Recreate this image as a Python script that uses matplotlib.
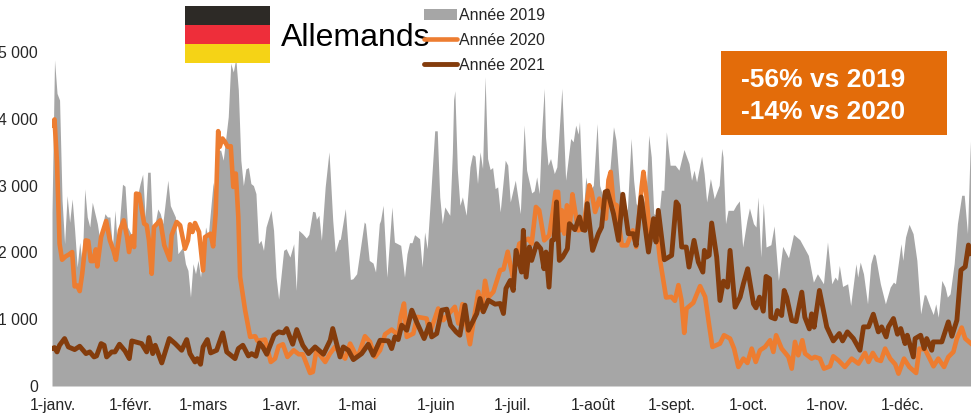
import matplotlib
matplotlib.use("Agg")
import matplotlib.pyplot as plt
from matplotlib.lines import Line2D
from matplotlib.patches import Patch, Rectangle

plt.rcParams["font.family"] = ["Liberation Sans", "DejaVu Sans"]

tick_days = [0.4, 31.4, 60, 91, 121.5, 152.5, 183, 214.8, 246, 276.5, 308, 338]
tick_labels = ["1-janv.", "1-févr.", "1-mars", "1-avr.", "1-mai", "1-juin", "1-juil.",
               "1-août", "1-sept.", "1-oct.", "1-nov.", "1-déc."]
y_ticks = [0, 1000, 2000, 3000, 4000, 5000]
y_labels = ["0", "1 000", "2 000", "3 000", "4 000", "5 000"]

days_2019 = [0, 1, 2, 3, 4, 5, 6, 7, 8, 9, 10, 11, 12, 13, 14, 15, 16, 18, 19, 21, 22, 23, 24, 25, 26,
             28, 29, 30, 32, 33, 35, 36, 37, 38, 39, 40, 42, 43, 44, 46, 47, 49, 50, 52, 53, 54, 55,
             56, 57, 58, 59, 61, 62, 64, 65, 66, 67, 68, 70, 71, 72, 73, 74, 75, 76, 77, 78, 79, 80,
             81, 82, 83, 84, 85, 87, 88, 89, 90, 92, 93, 94.5, 96, 97, 98, 99.5, 101, 102, 103.5,
             104.5, 105, 106, 107, 108.5, 110, 110.5, 111.5, 112.5, 114, 114.5, 116.5, 118.5, 119.5,
             121, 124, 124.5, 126, 127.5, 128.5, 130, 130.5, 131.5, 133, 135, 136, 138.5, 140, 141,
             142, 143, 144, 146, 147, 148, 149, 150, 152, 153, 154, 155, 156, 158, 159, 159.5, 160,
             161, 162, 163, 164.5, 166, 167, 168, 169, 170, 171, 172, 173, 174, 175, 176, 177, 178,
             180, 181, 182, 184, 186, 187.5, 188.5, 190.5, 191.5, 192.5, 193.5, 194.5, 195.5, 196,
             197, 198, 199.5, 200.5, 202.5, 204, 206, 207, 208, 209, 209.5, 211, 212, 213, 215,
             216.5, 217.5, 219, 221, 223, 224, 225.5, 227, 228.5, 230, 231, 232, 234, 236, 237, 238,
             239, 241, 242, 243, 244, 245.5, 247.5, 249, 251, 253, 254, 255, 256, 258, 259, 260,
             261.5, 263, 265, 266, 266.5, 267.5, 268.5, 270.6, 271.7, 273, 274.3, 276, 277, 278.6,
             279.6, 280.4, 281.5, 282.5, 283.6, 285.5, 286.8, 288.5, 290.2, 292.5, 294.5, 297,
             300.4, 302.4, 304, 306.4, 308, 309.7, 311, 312, 312.7, 314, 316, 317.2, 319.3, 320,
             321, 322.3, 323.9, 325.2, 326.3, 327, 329, 331, 332.9, 334.2, 335, 337.2, 337.9, 339,
             340.4, 342, 343.5, 345, 346.4, 347, 348.8, 350, 351, 352, 353.4, 354.7, 355.6, 356.7,
             358.3, 359.6, 361.3, 362.3, 363.6, 364.6, 365]
values_2019 = [2600, 4880, 4380, 4280, 2780, 2130, 2850, 2450, 2800, 2330, 1780, 2150, 1830, 2950, 2530,
               2380, 2750, 2430, 2180, 2580, 2530, 2530, 2080, 2630, 2080,
               3020, 2990, 2380, 2230, 2680, 3030, 3170, 2530, 3200, 3200, 2230, 2650, 2580, 2430, 3080,
               2700, 2530, 1980, 2080, 1830, 1730, 1330,
               1830, 1680, 1880, 1630, 2380, 2230, 3050, 2680, 3530, 3530, 3380, 4030, 4830, 4700, 4900,
               4430, 3380, 3000, 3250, 3270, 3030, 3000,
               2880, 2130, 2180, 2030, 2380, 2630, 2330, 1630, 1300, 2030, 2055, 1930, 2130, 1430, 2330,
               2280, 2215, 2270, 2615,
               2605, 2495, 2555, 2180, 2980, 3505, 3180, 2480, 2005, 2195, 2195, 2655, 1595, 1605,
               1680, 2455, 2430, 1880, 1840, 1705, 2430, 2480, 2705, 1630, 2680, 2155, 2105, 1630, 1980,
               2145, 2145, 2265, 2205, 1780, 2305, 2055, 2630, 3820, 3820, 2830, 2430, 2680, 2555, 3480,
               4280, 4420,
               3230, 2705, 2830, 2555, 3280, 3465, 3440, 3030, 3505, 3255, 4630, 3405, 3240, 3270, 2955,
               2980, 2605,
               3380, 3305, 2755, 3080, 2580, 3905, 3230, 2890, 2920, 3130, 2880, 3830, 4455, 3730,
               3305, 3405, 3180, 3280, 4455, 3080, 3705, 3655, 3905, 3770, 3955, 2580, 3130, 2880, 3005,
               3930, 3005, 2805, 2980, 3880, 3680, 2930, 2755, 2630, 3705, 3080, 2730, 2630, 2880, 3755,
               3430,
               2580, 2530, 2930, 2930, 3805, 3305, 3305, 3230, 3540, 3330, 3080, 3230, 3055, 3440, 3180,
               2755,
               3105, 2805, 3005, 3555, 3430, 2430, 2630, 2630, 2705, 2770, 2080, 2480, 2665, 2430,
               2380, 2830, 1930, 2740, 2080, 2115, 2395, 1580, 2090, 1920, 2270, 2190,
               1955, 1555, 1680, 1530, 2155, 1530, 1630, 1580, 1805, 1490, 1530, 1205, 1830, 1630,
               1855, 1680, 1230, 1830, 1980, 1955, 1530, 1230, 1480, 1555, 1530, 2130, 1880, 2230,
               2420, 2280, 1880, 1080, 1365, 1365, 1180, 1070, 1230, 1030, 1580, 1480, 1330, 1380,
               1830, 2430, 2855, 2855, 2280, 3480, 3850]

days_2020 = [0, 1, 2, 3, 4, 5.4, 6.8, 8, 9, 10, 11, 12, 13.4, 14.4, 15.4, 16.4, 17.4, 18, 19.5, 21.5, 23,
             24.4, 25.4, 27, 28.5, 29.8, 30.6, 31.7, 32.6, 33.4, 34.6, 36.6, 37.6, 38.5, 39.6, 40.5,
             43, 44.6, 46.8, 47.5, 49.5, 50.9, 52.8, 54, 54.8, 55.8, 56.8, 58.4, 60, 60.8, 63, 64,
             65, 66, 66.6, 67.7, 68.7, 69.8, 71, 72, 73, 74, 74.7, 76.7, 78.7, 80.7, 81.6, 84.6,
             86.9, 88.6, 90, 91.7, 93.5, 96, 98, 99.6, 102.5, 103.6, 105, 108.5, 110.4, 112.4, 116.4,
             118.4, 120.4, 121.7, 124.3, 126.3, 128.3, 130.3, 132.3, 134.9, 137.5, 138.5, 139.8,
             140.9, 143.5, 145, 148.8, 150, 153.4, 155.4, 160, 161.4, 163, 166, 169.3, 170.7, 172,
             173.3, 175.3, 178, 179.3, 181, 183, 185.6, 189.2, 190.5, 192.2, 193.5, 195.5, 197.5,
             199, 200, 201, 202, 202.5, 203.5, 204.5, 205.5, 206.7, 207.7, 209, 211, 213.4, 214.3,
             215.7, 217.4, 220, 221, 221.9, 223, 224.3, 226.3, 228.3, 230.7, 232, 234.2, 234.9, 236,
             237.5, 240.2, 241.5, 243.9, 246, 247.4, 248.8, 250, 251.1, 252, 254.7, 257.4, 259.4,
             261.1, 262.3, 265.3, 266.9, 269.3, 270.9, 272.6, 274.6, 276.2, 277.9, 279.5, 281.2,
             283.2, 285.2, 286.5, 287.6, 289.8, 292.5, 293.8, 295.1, 296.4, 298, 299.1, 301.7, 303,
             305, 306.6, 309, 310.3, 312.3, 314.9, 317.6, 320.3, 322.9, 324.3, 326, 327.6, 329.2,
             330.9, 332.9, 334.9, 336.2, 338.4, 340.5, 343.2, 344.5, 346.8, 350.1, 352, 354.3, 356,
             358, 359.4, 361.3, 362.7, 365]
values_2020 = [3905, 3990, 3330, 2130, 1890, 1940, 1970, 2005, 1490, 1505, 1420, 1680, 2180, 2170, 1870,
               1870, 2045, 1790, 2230, 2470, 2180,
               2030, 1890, 2330, 2480, 2230, 2005, 2240, 2080, 2880, 2870, 2430, 2405, 2180, 1680, 2380,
               2480, 2105, 1890, 2255, 2455, 2405, 2055, 2180, 2420, 2305, 2440, 2305, 1730, 2230, 2280,
               2090,
               2580, 3815, 3580, 3705, 3655, 3580, 3590, 2980, 3180, 2530, 1635, 1135, 735, 745, 675, 695,
               360, 410, 595, 625, 435, 535, 475, 475, 195, 210, 535, 360, 485, 585, 410,
               635, 485, 460, 745, 660, 435, 535, 775, 845, 760, 1035, 1235,
               735, 785, 1035, 1010, 785, 1160, 985, 1185, 935, 1225, 625, 1410, 1135, 1575,
               1325, 1410, 1735, 1745, 2010, 1630, 2130, 2205, 2130, 2680, 2630, 2180, 2255,
               2630, 2905, 2905, 2330, 2630, 2280, 2705, 2330, 2870, 2630, 2330, 2355, 3005, 2905,
               2605, 2805, 2505, 3080, 3205, 2730, 2705, 2105, 2105, 2330, 2080, 2980, 3205, 2880,
               2230, 2330, 1885, 1325, 1335, 1275, 1510, 1285, 795, 1160, 1245, 1495, 1335,
               885, 585, 635, 760, 710, 560, 285, 410, 345, 560, 360, 535,
               585, 685, 510, 760, 560, 435, 260, 660, 460, 685, 485, 410, 435,
               410, 260, 295, 445, 385, 285, 410, 335, 495, 360, 495, 395, 375,
               560, 410, 325, 185, 410, 285, 195, 560, 545, 295, 410, 285, 435,
               510, 710, 875, 710, 635]

days_2021 = [0, 1, 2, 3, 5, 6.5, 9, 11, 13.5, 15, 16.7, 17.7, 19.5, 20.7, 21.7, 23.7, 25, 26.8, 29, 30.7,
             31.7, 35.6, 37.6, 38.5, 40, 41, 43.6, 46.6, 48.9, 51.5, 53.5, 54.8, 56.8, 57.7, 59, 60,
             61.7, 63, 65.4, 67.8, 69.4, 72.7, 74, 75.8, 78, 79.3, 81, 82.4, 83.7, 85.3, 88.2, 90,
             91.9, 93.2, 95.6, 97.2, 99.6, 101.9, 104.5, 107.8, 110.5, 111.5, 114.4, 115.7, 117.7,
             119.7, 123, 125.6, 127.6, 130.3, 133.6, 134.9, 136.2, 137.5, 138.9, 140.9, 142.9, 144.8,
             147.8, 149.9, 150.8, 152.8, 154.8, 156.8, 158.3, 160.5, 162, 164, 165.4, 168.7, 170,
             171.3, 173.3, 176, 178, 179.3, 180.3, 182, 183.2, 184.3, 186.5, 187.2, 188.3, 189.6,
             190.5, 192.5, 194.1, 195.4, 196.2, 197.4, 198.5, 199.4, 200.4, 201.5, 202.8, 204.7,
             205.5, 207.7, 209.5, 210.8, 211.7, 212.6, 214.7, 217, 218.3, 219.7, 220.6, 223, 225,
             226.7, 228.9, 230.9, 232, 234, 236.9, 238.9, 239.9, 240.8, 243.2, 246.1, 247.9, 248.8,
             250.1, 251.9, 253, 255, 256.7, 258.5, 259.1, 260, 261, 262, 264, 265.3, 266.7, 268.3,
             269.3, 271.3, 273.3, 274.6, 276.3, 278.6, 279.6, 281, 282.5, 283.6, 285, 285.5, 287.2,
             288.1, 289.8, 290.8, 291.8, 293.8, 295.5, 297.8, 299, 300.8, 301.7, 302.7, 304.8, 307.7,
             310.3, 312.7, 314, 315.9, 318.3, 320.9, 322.3, 324.3, 326.2, 328.2, 329.5, 331.3, 332.2,
             334.2, 335.8, 337.1, 338.8, 339.7, 342.1, 342.8, 345, 346.4, 347.4, 349.4, 350, 353.4,
             356, 357.4, 359.4, 361, 362.7, 364, 365]
values_2021 = [560, 575, 510, 610, 710, 585, 545, 595, 485, 510, 435, 450, 635, 610, 435, 510, 510, 625, 525,
               410,
               675, 635, 510, 725, 485, 610, 345, 710, 635, 535, 695, 485, 360, 410, 325, 585,
               695, 495, 535, 795, 510, 410, 560, 610, 450, 485, 445, 645, 585, 475, 760, 810,
               795, 860, 625, 845, 610, 485, 585, 475, 685, 860, 435, 585, 535,
               395, 485, 625, 460, 685, 675, 560, 735, 695, 910, 835, 1135, 960,
               710, 925, 735, 785, 1135, 1150, 910, 810, 760, 1210, 835, 1085, 1310,
               1110, 1285, 1225, 1235, 1085, 1460, 1580, 1430, 2030, 1705, 2330, 1630, 2080,
               1880, 2130, 2055, 1755, 2005, 1480, 2180, 2190, 2755, 1880, 1930, 2055,
               2430, 2340, 2530, 2340, 2330, 2730, 2030, 2280, 2380, 2905, 2920, 2580, 2180,
               2870, 2280, 2280, 2105, 2830, 2005, 2505, 2155, 2630, 1890, 1955, 2755, 2705,
               2080, 2080, 1780, 2180, 1855, 1705, 2030, 1930, 1955, 2440, 1930, 1280, 1570, 1480,
               2030, 1180, 1330, 1530, 1755, 1230, 1170, 1330, 1120, 1640, 1605, 1030, 1005,
               1130, 1055, 1430, 1330, 980, 965, 1405, 1030, 855, 1080, 880, 1430, 885,
               675, 785, 675, 810, 710, 535, 885, 885, 1075, 810, 885, 735, 885,
               1010, 775, 860, 635, 760, 435, 710, 760, 560, 710, 535, 660, 660,
               960, 745, 985, 1735, 1785, 2110, 1985]

W, H = 971, 418
fig = plt.figure(figsize=(W / 100, H / 100), dpi=100)
# axes fill the picture from the baseline up, the first labels run off the left edge
ax = fig.add_axes([52 / W, (H - 386) / H, (W - 52) / W, 386 / H])

ax.fill_between(days_2019, values_2019, 0, color="#a6a6a6", linewidth=0, zorder=1)
ax.plot(days_2020, values_2020, color="#ed7d31", lw=3.3, solid_joinstyle="round", zorder=2)
ax.plot(days_2021, values_2021, color="#843c0c", lw=3.5, solid_joinstyle="round", zorder=3)

ax.set_xlim(0, 365)
ax.set_ylim(0, 5778)
for side in ax.spines:
    ax.spines[side].set_visible(False)
ax.set_xticks(tick_days, tick_labels)
ax.set_yticks(y_ticks, y_labels)
ax.tick_params(axis="both", length=0, labelsize=11.3, labelcolor="#262626")
ax.tick_params(axis="x", pad=17)
ax.tick_params(axis="y", pad=10)
# accents and j change the label heights, so line them up on the baseline
for lab in ax.get_xticklabels():
    lab.set_verticalalignment("baseline")


def px_rect(x0, y0, x1, y1, **kw):
    fig.add_artist(Rectangle((x0 / W, 1 - y1 / H), (x1 - x0) / W, (y1 - y0) / H,
                             transform=fig.transFigure, **kw))


# flag
px_rect(185, 6, 270, 25, facecolor="#2d2a26", edgecolor="none", zorder=5)
px_rect(185, 25, 270, 44, facecolor="#ee2e3a", edgecolor="none", zorder=5)
px_rect(185, 44, 270, 63, facecolor="#f5d316", edgecolor="none", zorder=5)
fig.text(281 / W, 1 - 46 / H, "Allemands", fontsize=23, color="black", zorder=6)

# orange box
px_rect(721, 51, 947, 135, facecolor="#e36c0a", edgecolor="none", zorder=5)
fig.text(741 / W, 1 - 87 / H, "-56% vs 2019", fontsize=19, fontweight="bold", color="white", zorder=6)
fig.text(741 / W, 1 - 119 / H, "-14% vs 2020", fontsize=19, fontweight="bold", color="white", zorder=6)

handles = [Patch(facecolor="#a6a6a6", edgecolor="none"),
           Line2D([], [], color="#ed7d31", lw=3.3, solid_capstyle="round"),
           Line2D([], [], color="#843c0c", lw=3.5, solid_capstyle="round")]
leg = fig.legend(handles, ["Année 2019", "Année 2020", "Année 2021"],
                 loc="upper left", bbox_to_anchor=(424 / W, 1 - 8 / H), frameon=False,
                 fontsize=11.5, labelspacing=0.62, handlelength=2.07, handletextpad=0.12,
                 borderpad=0, borderaxespad=0, labelcolor="#262626")
leg.set_zorder(7)

fig.savefig("out.png", dpi=100)
